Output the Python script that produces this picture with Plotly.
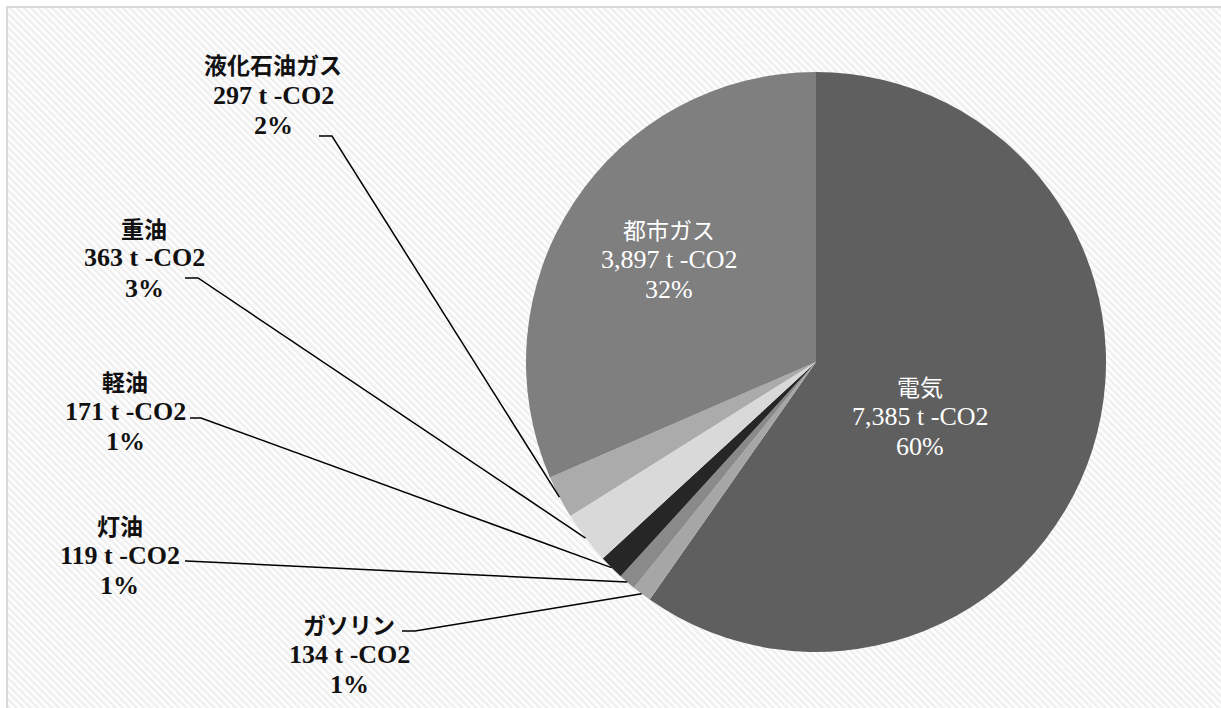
import math
import base64
import plotly.graph_objects as go

# ---- data ----
labels = ["電気", "ガソリン", "灯油", "軽油", "重油", "液化石油ガス", "都市ガス"]
values = [7385, 134, 119, 171, 363, 297, 3897]
unit = "t -CO2"

# ---- styles / layout ----
colors = ["#5f5f5f", "#a6a6a6", "#8a8a8a", "#262626", "#d9d9d9", "#ababab", "#7f7f7f"]
W, H = 1221, 708
CX, CY, R = 816, 362, 290          # pie centre / radius in pixels
# label block centres (pixels) and whether inside the pie
label_pos = {
    "電気": (920, 416, True),
    "都市ガス": (669, 259, True),
    "液化石油ガス": (273, 95, False),
    "重油": (144, 258, False),
    "軽油": (125, 411, False),
    "灯油": (120, 555, False),
    "ガソリン": (349, 654, False),
}
# leader line anchors near the labels (pixels): start, elbow
leader_anchor = {
    "液化石油ガス": [(319, 136), (332, 136)],
    "重油": [(185, 278), (198, 278)],
    "軽油": [(190, 418), (201, 418)],
    "灯油": [(185, 561), (186, 561)],
    "ガソリン": [(402, 631), (415, 631)],
}

LATIN_FONT = "Liberation Serif, Noto Sans CJK JP, serif"
CJK_FONT = "Noto Sans CJK JP, Liberation Serif, sans-serif"
LATIN_SIZE = 26
CJK_SIZE = 23
LINE_GAP = 30.5


def px(x):
    return x / W


def py(y):
    return 1 - y / H


total = sum(values)
pcts = [round(v / total * 100) for v in values]

fig = go.Figure()
fig.add_trace(go.Pie(
    labels=labels,
    values=values,
    sort=False,
    direction="clockwise",
    rotation=0,
    marker=dict(colors=colors, line=dict(width=0)),
    textinfo="none",
    hoverinfo="label+value+percent",
    showlegend=False,
    domain=dict(x=[px(CX - R), px(CX + R)], y=[py(CY + R), py(CY - R)]),
))

# slice mid angles from the data (clockwise from 12 o'clock)
mid = {}
acc = 0
for lab, v in zip(labels, values):
    a0 = acc / total * 360
    acc += v
    a1 = acc / total * 360
    mid[lab] = math.radians((a0 + a1) / 2)

annotations = []
shapes = []
for lab, v, p in zip(labels, values, pcts):
    x, y, inside = label_pos[lab]
    lines = [(lab, CJK_FONT, CJK_SIZE),
             (f"{v:,} {unit}", LATIN_FONT, LATIN_SIZE),
             (f"{p}%", LATIN_FONT, LATIN_SIZE)]
    color = "#ffffff" if inside else "#111111"
    for i, (t, fam, sz) in enumerate(lines):
        txt = t if inside else f"<b>{t}</b>"
        annotations.append(dict(
            x=px(x), y=py(y + (i - 1) * LINE_GAP), xref="paper", yref="paper",
            text=txt, showarrow=False, xanchor="center", yanchor="middle",
            align="center", font=dict(family=fam, size=sz, color=color),
        ))
    if lab in leader_anchor:
        (sx, sy), (ex, ey) = leader_anchor[lab]
        th = mid[lab]
        tx = CX + R * math.sin(th)
        ty = CY - R * math.cos(th)
        path = f"M {px(sx)} {py(sy)} L {px(ex)} {py(ey)} L {px(tx)} {py(ty)}"
        shapes.append(dict(type="path", xref="paper", yref="paper", path=path,
                           line=dict(color="#000000", width=1.5), layer="above"))

# chart-area frame
shapes.append(dict(type="rect", xref="paper", yref="paper",
                   x0=px(7), x1=px(W + 10), y0=py(H + 10), y1=py(7),
                   line=dict(color="#d9d9d9", width=2), fillcolor="rgba(0,0,0,0)",
                   layer="below"))

# hatched background as an svg pattern image
bw, bh = W - 8, H - 8
svg = (f'<svg xmlns="http://www.w3.org/2000/svg" width="{bw}" height="{bh}">'
       '<defs><pattern id="p" width="5" height="5" patternUnits="userSpaceOnUse" '
       'patternTransform="rotate(-45)">'
       '<rect width="5" height="5" fill="#ffffff"/>'
       '<rect width="2.5" height="5" fill="#efefef"/></pattern></defs>'
       f'<rect width="{bw}" height="{bh}" fill="url(#p)"/></svg>')
src = "data:image/svg+xml;base64," + base64.b64encode(svg.encode()).decode()

fig.update_layout(
    width=W, height=H,
    margin=dict(l=0, r=0, t=0, b=0),
    paper_bgcolor="#ffffff",
    plot_bgcolor="#ffffff",
    annotations=annotations,
    shapes=shapes,
    images=[dict(source=src, xref="paper", yref="paper", x=px(8), y=py(8),
                 sizex=bw / W, sizey=bh / H, sizing="stretch",
                 xanchor="left", yanchor="top", layer="below")],
)

fig.write_html("out.html")
